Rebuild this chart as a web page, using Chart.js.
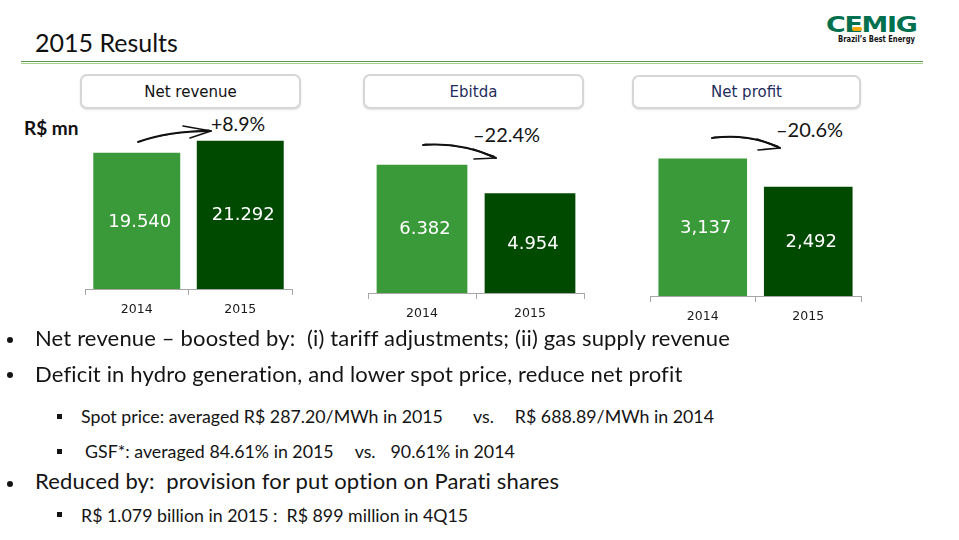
<!DOCTYPE html>
<html>
<head>
<meta charset="utf-8">
<script src="https://cdn.jsdelivr.net/npm/chart.js@4/dist/chart.umd.min.js"></script>
<style>
  html,body{margin:0;padding:0;background:#fff;}
  body{width:959px;height:540px;position:relative;overflow:hidden;font-family:Lato,"Open Sans",sans-serif;color:#141414;}
  .abs{position:absolute;white-space:pre;line-height:1;}
  .big{font-size:22px;letter-spacing:0.16px;}
  .sub{font-size:17.8px;}
  .box{position:absolute;border:2px solid #d6d6d6;border-radius:7px;background:#fff;box-sizing:border-box;
       box-shadow:0 1px 2px rgba(0,0,0,0.12);font-family:"DejaVu Sans",Verdana,sans-serif;font-size:15px;
       display:flex;align-items:center;justify-content:center;}
  .dot{position:absolute;width:6px;height:6px;border-radius:50%;background:#141414;}
  .sq{position:absolute;width:5px;height:5px;background:#141414;}
  canvas{position:absolute;}
</style>
</head>
<body>
<script>
// ---- data ----
const categories = ['2014', '2015'];
const netRevenue = [19540, 21292];
const netRevenueLabels = ['19.540', '21.292'];
const ebitda = [6382, 4954];
const ebitdaLabels = ['6.382', '4.954'];
const netProfit = [3137, 2492];
const netProfitLabels = ['3,137', '2,492'];
const panelTitles = ['Net revenue', 'Ebitda', 'Net profit'];
const changeLabels = ['+8.9%', '\u201322.4%', '\u201320.6%'];
</script>

<!-- header -->
<div class="abs" style="left:35px;top:30px;font-size:25px;color:#111;">2015 Results</div>
<div style="position:absolute;left:21px;top:61px;width:902px;height:1px;background:#5f9d4c;"></div>
<div style="position:absolute;left:21px;top:63px;width:902px;height:1px;background:#a9d28f;"></div>

<!-- logo -->
<div class="abs" style="left:826px;top:15px;font-family:'DejaVu Sans';font-weight:bold;font-size:21px;color:#00704f;transform:scaleX(1.28);transform-origin:left top;letter-spacing:-1px;">CEMIG</div>
<div style="position:absolute;left:852px;top:27px;width:10px;height:4px;border-radius:2px;background:#f5a800;"></div>
<div class="abs" style="left:838px;top:35px;font-family:'DejaVu Sans';font-weight:bold;font-size:8.5px;color:#111;transform:scaleX(0.8);transform-origin:left top;">Brazil’s Best Energy</div>

<!-- panel titles -->
<div class="box" id="t0" style="left:80px;top:74px;width:221px;height:35px;color:#111;"></div>
<div class="box" id="t1" style="left:363px;top:74px;width:221px;height:35px;color:#1f2d5c;"></div>
<div class="box" id="t2" style="left:632px;top:75px;width:229px;height:34px;color:#1f2d5c;"></div>

<div class="abs" style="left:24px;top:118px;font-size:19px;font-weight:bold;color:#111;">R$ mn</div>

<!-- change labels -->
<div class="abs" id="c0" style="left:211px;top:114px;font-size:19.5px;"></div>
<div class="abs" id="c1" style="left:473px;top:124px;font-size:20px;"></div>
<div class="abs" id="c2" style="left:776px;top:119px;font-size:20px;"></div>

<!-- arrows -->
<svg style="position:absolute;left:0;top:0;" width="959" height="540">
  <g fill="none" stroke="#111" stroke-linecap="round">
    <path d="M138 142 Q168 131 211 131" stroke-width="2"/>
    <path d="M140 141 Q170 132 209 130" stroke-width="1"/>
    <path d="M183 126 L211 131 L190 138" stroke-width="1.6"/>
    <path d="M423 145 Q462 142 496 158" stroke-width="2"/>
    <path d="M425 144 Q462 144 494 156" stroke-width="1"/>
    <path d="M473 149 L496 158 L474 159" stroke-width="1.6"/>
    <path d="M712 138 Q750 133 780 148" stroke-width="2"/>
    <path d="M714 137 Q750 135 778 146" stroke-width="1"/>
    <path d="M757 139 L780 148 L758 150" stroke-width="1.6"/>
  </g>
</svg>

<!-- charts -->
<canvas id="ch0" width="209" height="212" style="left:84px;top:112px;"></canvas>
<canvas id="ch1" width="218" height="216" style="left:367px;top:112px;"></canvas>
<canvas id="ch2" width="213" height="219" style="left:649px;top:112px;"></canvas>

<!-- bullets -->
<div class="dot" style="left:7px;top:337px;"></div>
<div class="abs big" style="left:35px;top:327px;">Net revenue – boosted by:  (i) tariff adjustments; (ii) gas supply revenue</div>
<div class="dot" style="left:7px;top:372px;"></div>
<div class="abs big" style="left:35px;top:363px;">Deficit in hydro generation, and lower spot price, reduce net profit</div>
<div class="sq" style="left:57px;top:414px;"></div>
<div class="abs sub" style="left:81px;top:408px;">Spot price: averaged R$ 287.20/MWh in 2015<span style="margin-left:30px">vs.</span><span style="margin-left:21px">R$ 688.89/MWh in 2014</span></div>
<div class="sq" style="left:57px;top:449px;"></div>
<div class="abs sub" style="left:85px;top:443px;">GSF*: averaged 84.61% in 2015<span style="margin-left:21px">vs.</span><span style="margin-left:15px">90.61% in 2014</span></div>
<div class="dot" style="left:7px;top:481px;"></div>
<div class="abs big" style="left:35px;top:470px;">Reduced by:  provision for put option on Parati shares</div>
<div class="sq" style="left:57px;top:512px;"></div>
<div class="abs sub" style="left:81px;top:507px;">R$ 1.079 billion in 2015 :  R$ 899 million in 4Q15</div>

<script>
panelTitles.forEach((t, i) => { document.getElementById('t' + i).textContent = t; });
changeLabels.forEach((t, i) => { document.getElementById('c' + i).textContent = t; });

const barColors = ['#3a9a3a', '#004a00'];

const valueLabelPlugin = {
  id: 'valueLabels',
  afterDatasetsDraw(chart, args, opts) {
    const ctx = chart.ctx;
    const meta = chart.getDatasetMeta(0);
    ctx.save();
    ctx.fillStyle = '#ffffff';
    ctx.font = '18px "DejaVu Sans", Verdana, sans-serif';
    ctx.textAlign = 'center';
    ctx.textBaseline = 'middle';
    meta.data.forEach((bar, i) => {
      const p = bar.getProps(['x', 'y', 'base'], true);
      ctx.fillText(opts.labels[i], p.x + 3, (p.y + p.base) / 2 + 1);
    });
    ctx.restore();
  }
};

function makeChart(id, values, labels, max) {
  return new Chart(document.getElementById(id), {
    type: 'bar',
    data: {
      labels: categories,
      datasets: [{
        data: values,
        backgroundColor: barColors,
        borderWidth: 0,
        barPercentage: 0.84,
        categoryPercentage: 1
      }]
    },
    options: {
      responsive: false,
      animation: false,
      layout: { padding: { left: 1, right: 1, top: 0, bottom: 0 } },
      plugins: {
        legend: { display: false },
        tooltip: { enabled: false },
        valueLabels: { labels: labels }
      },
      scales: {
        x: {
          grid: { display: true, drawOnChartArea: false, drawTicks: true, tickLength: 6, color: '#a6a6a6', offset: true },
          border: { display: true, color: '#a6a6a6', width: 1 },
          ticks: { color: '#1a1a1a', font: { family: 'DejaVu Sans', size: 12.5 }, padding: 7 }
        },
        y: { display: false, min: 0, max: max }
      }
    },
    plugins: [valueLabelPlugin]
  });
}

makeChart('ch0', netRevenue, netRevenueLabels, 25400);
makeChart('ch1', ebitda, ebitdaLabels, 9000);
makeChart('ch2', netProfit, netProfitLabels, 4200);
</script>
</body>
</html>
